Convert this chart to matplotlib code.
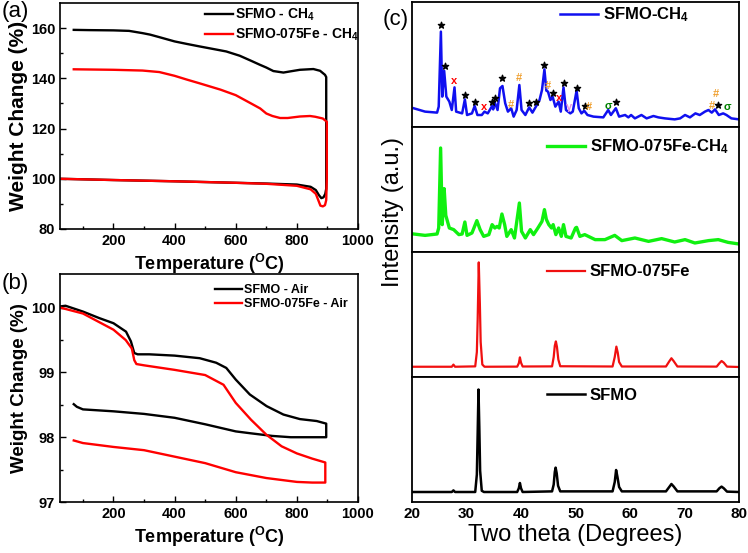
import numpy as np
import matplotlib
matplotlib.use('Agg')
import matplotlib.pyplot as plt

plt.rcParams['font.family'] = ['Liberation Sans', 'DejaVu Sans']
plt.rcParams['mathtext.fontset'] = 'custom'
plt.rcParams['mathtext.rm'] = 'Liberation Sans:bold'
plt.rcParams['mathtext.it'] = 'Liberation Sans:bold'
plt.rcParams['mathtext.bf'] = 'Liberation Sans:bold'
plt.rcParams['mathtext.default'] = 'rm'

# ---- (a) TGA in CH4 : heating, jump at 900 C, then cooling back ----
t_sfmo_ch4 = [25, 200, 400, 600, 700, 800, 845, 862, 872, 880, 887, 893, 896, 896,
              892, 876, 854, 810, 780, 756, 723, 700, 679, 650, 613, 569, 530, 482,
              440, 400, 350, 320, 295, 251, 200, 120, 70]
w_sfmo_ch4 = [100.0, 99.5, 99.0, 98.4, 98.1, 97.7, 96.8, 95.5, 93.5, 92.3, 92.6, 94.0, 96.0, 140.5,
              141.4, 143.0, 143.7, 143.4, 142.8, 142.3, 142.9, 144.3, 145.4, 147.0, 149.0, 150.7, 151.6, 152.7,
              153.7, 154.7, 156.4, 157.4, 158.0, 158.9, 159.1, 159.2, 159.3]
t_fe_ch4 = [25, 200, 400, 600, 700, 800, 845, 862, 870, 877, 885, 892, 896, 898, 898,
            885, 860, 843, 810, 770, 745, 720, 700, 680, 650, 600, 550, 482, 440, 400,
            350, 295, 200, 70]
w_fe_ch4 = [100.0, 99.5, 99.0, 98.4, 98.0, 97.2, 95.8, 94.0, 91.5, 89.3, 89.0, 89.5, 91.5, 100.0, 122.7,
            124.0, 124.7, 125.0, 124.8, 124.2, 124.2, 125.0, 126.0, 128.0, 130.0, 133.3, 135.5, 138.0, 139.5, 141.0,
            142.5, 143.1, 143.4, 143.6]

# ---- (b) TGA in air ----
t_sfmo_air = [27, 43, 100, 153, 200, 241, 257, 268, 279, 317, 400, 482, 536, 569, 600, 646, 701,
              756, 810, 865, 896, 896, 850, 780, 720, 650, 600, 500, 400, 300, 200, 100, 80, 70]
w_sfmo_air = [100.02, 100.03, 99.94, 99.84, 99.76, 99.63, 99.48, 99.30, 99.28, 99.28, 99.26, 99.22,
              99.15, 99.07, 98.89, 98.66, 98.48, 98.35, 98.28, 98.25, 98.21, 98.0, 98.0, 98.0, 98.02,
              98.06, 98.09, 98.2, 98.3, 98.36, 98.4, 98.43, 98.47, 98.51]
t_fe_air = [27, 100, 200, 240, 260, 268, 275, 300, 400, 500, 560, 600, 650, 700, 750, 800, 850,
            893, 893, 850, 800, 700, 600, 500, 400, 300, 200, 100, 70]
w_fe_air = [100.0, 99.91, 99.66, 99.5, 99.37, 99.19, 99.13, 99.11, 99.04, 98.96, 98.81, 98.53, 98.27,
            98.04, 97.86, 97.75, 97.67, 97.61, 97.3, 97.3, 97.31, 97.37, 97.46, 97.6, 97.7, 97.8, 97.85,
            97.91, 97.95]

# ---- (c) XRD (intensity in a.u., 0-100 per panel) ----
tt_ch4 = [20.3, 22.4, 24.6, 24.9, 25.3, 25.55, 25.9, 26.3, 26.85, 27.3, 27.8, 28.1, 29.2, 29.7, 30.1,
          31.0, 31.5, 32.0, 32.8, 33.3, 33.9, 34.7, 34.9, 35.2, 35.7, 36.15, 36.6, 37.1, 37.6, 38.2,
          38.65, 39.2, 39.7, 40.1, 40.8, 41.5, 42.1, 42.8, 43.4, 43.85, 44.3, 44.65, 44.95, 45.4, 45.8,
          46.3, 46.9, 47.3, 47.8, 48.25, 49.05, 49.5, 50.2, 50.6, 51.1, 51.6, 52.2, 53.3, 55.1, 56.0,
          56.5, 57.4, 58.0, 59.1, 59.7, 60.2, 60.9, 62.1, 63.05, 64.3, 65.2, 66.4, 68.2, 69.2, 70.1,
          71.0, 72.0, 72.8, 73.75, 74.4, 75.0, 75.6, 76.3, 77.1, 77.7, 78.6, 80.0]
i_ch4 = [15.0, 12.3, 11.5, 16.3, 76.3, 24.3, 45.0, 24.3, 20.3, 13.6, 31.7, 12.3, 10.9, 22.1, 9.6,
         10.9, 16.8, 9.6, 9.6, 12.3, 10.9, 16.8, 14.1, 19.5, 13.6, 31.0, 32.8, 19.0, 12.3, 15.0,
         8.3, 13.6, 33.6, 13.6, 9.6, 15.7, 11.5, 16.8, 21.6, 29.6, 46.1, 29.1, 28.3, 21.6, 24.3,
         16.3, 20.3, 12.3, 31.7, 13.6, 10.9, 12.3, 29.1, 15.0, 10.9, 13.0, 9.6, 8.3, 7.7, 13.6,
         9.6, 15.0, 8.3, 9.6, 7.7, 9.6, 6.9, 9.6, 6.9, 8.8, 7.7, 6.9, 6.1, 6.9, 9.6,
         7.7, 10.9, 9.6, 12.3, 13.6, 11.5, 14.1, 9.6, 10.9, 9.6, 6.9, 6.1]

tt_fe_ch4 = [20.3, 22.4, 24.6, 24.9, 25.25, 25.55, 25.9, 26.2, 26.85, 27.65, 28.6, 29.2, 29.7, 30.1,
             31.0, 31.9, 32.5, 33.15, 34.1, 34.7, 35.2, 35.6, 36.0, 36.5, 37.0, 37.4, 38.2, 38.8,
             39.7, 40.1, 40.8, 41.7, 42.3, 43.1, 43.85, 44.3, 44.65, 45.1, 45.6, 45.9, 46.4, 46.9,
             47.4, 47.8, 48.25, 49.2, 50.0, 50.2, 50.8, 51.7, 53.6, 55.4, 57.2, 58.5, 60.9, 63.4,
             65.8, 68.2, 70.1, 71.9, 74.4, 76.2, 78.0, 80.0]
i_fe_ch4 = [14.4, 13.3, 14.4, 19.2, 83.2, 21.9, 50.7, 29.3, 19.2, 17.9, 13.9, 14.4, 24.0, 13.3,
            15.2, 25.1, 17.9, 12.5, 13.9, 21.9, 19.2, 20.5, 19.2, 30.4, 21.9, 12.5, 17.9, 11.2,
            39.2, 16.5, 11.2, 17.9, 13.9, 19.2, 24.5, 33.9, 26.1, 21.9, 19.2, 21.9, 13.9, 19.2,
            12.5, 21.9, 12.5, 11.2, 19.2, 19.7, 12.5, 13.9, 9.9, 9.9, 13.3, 9.1, 11.2, 8.5,
            10.7, 8.0, 9.9, 7.2, 9.1, 9.9, 7.7, 6.4]

tt_fe = [20.0, 27.3, 27.6, 27.9, 31.6, 31.9, 32.05, 32.25, 32.45, 32.6, 32.9, 33.3, 39.3, 39.6, 39.8,
         40.0, 40.3, 45.7, 46.0, 46.2, 46.4, 46.6, 46.85, 47.2, 56.8, 57.2, 57.5, 57.75, 58.0, 58.5,
         66.6, 67.2, 67.6, 68.0, 68.7, 75.9, 76.4, 76.8, 77.2, 77.8, 80.0]
i_fe = [8.2, 8.2, 9.9, 8.2, 8.5, 20.0, 46.0, 91.7, 59.0, 28.0, 10.0, 8.2, 8.3, 11.0, 15.7,
        11.5, 8.4, 8.5, 16.0, 25.0, 28.5, 24.0, 14.0, 8.6, 8.4, 16.0, 24.3, 19.5, 12.0, 8.4,
        8.4, 12.5, 15.0, 12.8, 8.4, 8.3, 11.0, 12.8, 11.5, 8.3, 8.0]

tt_sfmo = [20.0, 27.3, 27.6, 27.9, 31.6, 31.9, 32.05, 32.2, 32.35, 32.5, 32.8, 33.2, 39.3, 39.6, 39.8,
           40.0, 40.3, 45.7, 46.0, 46.2, 46.35, 46.55, 46.8, 47.2, 56.8, 57.2, 57.45, 57.7, 58.0, 58.5,
           66.6, 67.2, 67.6, 68.0, 68.7, 75.9, 76.4, 76.8, 77.2, 77.8, 80.0]
i_sfmo = [8.0, 8.0, 9.3, 8.0, 8.0, 22.0, 55.0, 90.0, 60.0, 25.0, 9.0, 8.0, 8.0, 11.0, 15.2,
          11.0, 8.0, 8.5, 14.0, 24.0, 27.5, 23.0, 13.0, 8.5, 8.5, 16.0, 25.6, 20.0, 12.0, 8.5,
          8.5, 12.0, 14.4, 12.5, 8.5, 8.5, 11.0, 12.3, 11.0, 8.3, 8.0]

# phase marks on SFMO-CH4 pattern
star_tt = [25.3, 26.0, 29.7, 31.5, 34.7, 35.2, 36.5, 41.5, 42.8, 44.3, 45.8, 47.8, 50.2, 51.7, 57.4, 76.2]
star_i = [81.6, 48.8, 26.0, 20.0, 20.0, 23.5, 39.5, 19.0, 20.0, 49.6, 27.0, 34.9, 31.0, 16.8, 20.0, 17.5]
sym_tt = [27.8, 33.3, 46.9, 38.2, 39.7, 45.0, 52.4, 75.1, 75.8, 48.9, 56.0, 77.8]
sym_i = [37.0, 15.6, 23.0, 17.6, 39.5, 32.8, 15.7, 17.0, 26.5, 16.0, 16.8, 15.6]
sym_txt = ['x', 'x', 'x', '#', '#', '#', '#', '#', '#', 'γ', 'σ', 'σ']
sym_col = ['red', 'red', 'red', '#f0a030', '#f0a030', '#f0a030', '#f0a030', '#f0a030', '#f0a030',
           '#e890e0', 'green', 'green']

W, H = 748, 553
fig = plt.figure(figsize=(W / 100, H / 100), dpi=100)

def tga_axes(ax, ylo, yhi, major, minor, ylab_size):
    ax.set_xlim(25, 1000)
    ax.set_ylim(ylo, yhi)
    ax.set_xticks([200, 400, 600, 800, 1000])
    ax.set_xticks([100, 300, 500, 700, 900], minor=True)
    ax.set_yticks(major)
    ax.set_yticks(minor, minor=True)
    ax.tick_params(which='both', direction='in', labelsize=10.5, width=1)
    ax.tick_params(which='major', length=4)
    ax.tick_params(which='minor', length=2.5)
    for lab in ax.get_xticklabels() + ax.get_yticklabels():
        lab.set_fontweight('bold')
    for s in ax.spines.values():
        s.set_linewidth(1.2)
    ax.set_xlabel('Temperature ($^{O}$C)', fontsize=13, fontweight='bold', labelpad=3)
    ax.set_ylabel('Weight Change (%)', fontsize=ylab_size, fontweight='bold', labelpad=2)

axA = fig.add_axes([60 / W, 1 - 229 / H, 298 / W, 226 / H])
axA.plot(t_sfmo_ch4, w_sfmo_ch4, color='black', lw=1.7, label='SFMO - CH$_4$')
axA.plot(t_fe_ch4, w_fe_ch4, color='red', lw=1.7, label='SFMO-075Fe - CH$_4$')
tga_axes(axA, 80, 170, [80, 100, 120, 140, 160], [90, 110, 130, 150], 15)
axA.legend(loc='center left', bbox_to_anchor=(0.487, 0.903), frameon=False, borderpad=0,
           borderaxespad=0, handlelength=2.0, handletextpad=0.15, labelspacing=0.3,
           prop={'weight': 'bold', 'size': 10})
fig.text(2 / W, 1 - 12 / H, '(a)', fontsize=16, va='center')

axB = fig.add_axes([60 / W, 1 - 502 / H, 298 / W, 228 / H])
axB.plot(t_sfmo_air, w_sfmo_air, color='black', lw=1.7, label='SFMO - Air')
axB.plot(t_fe_air, w_fe_air, color='red', lw=1.7, label='SFMO-075Fe - Air')
tga_axes(axB, 97, 100.52, [97, 98, 99, 100], [97.5, 98.5, 99.5], 13.5)
axB.legend(loc='center left', bbox_to_anchor=(0.52, 0.899), frameon=False, borderpad=0,
           borderaxespad=0, handlelength=2.2, handletextpad=0.15, labelspacing=0.15,
           prop={'weight': 'bold', 'size': 9})
fig.text(2 / W, 1 - 284 / H, '(b)', fontsize=16, va='center')

# ---- (c) stacked XRD ----
xrd = [(tt_ch4, i_ch4, '#1010f0', 'SFMO-CH$_4$', 0.453, 0.896, 1.8),
       (tt_fe_ch4, i_fe_ch4, '#10f010', 'SFMO-075Fe-CH$_4$', 0.413, 0.84, 2.4),
       (tt_fe, i_fe, '#f01010', 'SFMO-075Fe', 0.413, 0.84, 1.6),
       (tt_sfmo, i_sfmo, 'black', 'SFMO', 0.413, 0.856, 1.8)]
tops = [2, 127, 252, 377]
axs = []
for (xx, yy, col, lab, lx, ly, lw), top in zip(xrd, tops):
    ax = fig.add_axes([412 / W, 1 - (top + 125) / H, 327 / W, 125 / H])
    ax.plot(xx, yy, color=col, lw=lw, label=lab)
    ax.set_xlim(20, 80)
    ax.set_ylim(0, 100)
    ax.set_yticks([])
    ax.set_xticks([20, 30, 40, 50, 60, 70, 80])
    ax.tick_params(axis='x', length=0, labelsize=11)
    for s in ax.spines.values():
        s.set_linewidth(1.3)
    ax.legend(loc='center left', bbox_to_anchor=(lx, ly), frameon=False, borderpad=0,
              borderaxespad=0, handlelength=2.3, handletextpad=0.25,
              prop={'weight': 'bold', 'size': 12})
    axs.append(ax)

for ax in axs[:-1]:
    ax.tick_params(axis='x', labelbottom=False)
for lab in axs[-1].get_xticklabels():
    lab.set_fontweight('bold')
axs[-1].set_xlabel('Two theta (Degrees)', fontsize=17, labelpad=2)

axs[0].scatter(star_tt, star_i, marker='*', s=22, color='black', zorder=3)
for x, y, s, c in zip(sym_tt, sym_i, sym_txt, sym_col):
    axs[0].text(x, y, s, color=c, fontsize=8, fontweight='bold', ha='center', va='center')

fig.text(393 / W, 1 - 212 / H, 'Intensity (a.u.)', fontsize=17, rotation=90,
         ha='center', va='center')
fig.text(383 / W, 1 - 20 / H, '(c)', fontsize=16, va='center')

fig.savefig('out.png', dpi=100)
